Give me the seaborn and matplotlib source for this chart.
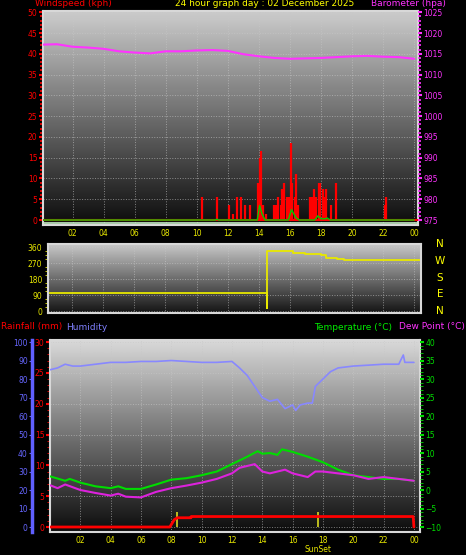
import numpy as np
import matplotlib
matplotlib.use("Agg")
import matplotlib.pyplot as plt
import seaborn as sns

sns.set_style("dark")
plt.rcParams['font.family'] = ['DejaVu Sans']

# %% Data
gust_hour = [10.35, 11.3, 12.1, 12.35, 12.6, 12.85, 13.1, 13.4, 13.95, 14.05, 14.15, 14.3, 14.45,
             14.95, 15.1, 15.25, 15.4, 15.5, 15.65, 15.8, 15.95, 16.05, 16.15, 16.3, 16.4, 16.5,
             17.3, 17.4, 17.55, 17.7, 17.85, 17.95, 18.1, 18.2, 18.35, 18.65, 18.95, 22.1, 22.2]
gust_kph = [5.5, 5.5, 3.5, 1.5, 5.5, 5.5, 3.5, 3.5, 9, 15, 16.5, 3.5, 1.5,
            3.5, 3.5, 5.5, 3.5, 7.5, 9, 5.5, 5.5, 18.5, 9, 5.5, 11, 3.5,
            5.5, 5.5, 7.5, 5.5, 9, 9, 7.5, 5.5, 7.5, 3.5, 9, 3.5, 5.5]
avg_hour = [0, 11.2, 11.3, 11.4, 13.9, 14.05, 14.2, 14.4, 15.9, 16.1, 16.4, 16.6,
            17.6, 17.8, 18.0, 18.3, 18.4, 18.6, 24]
avg_kph = [0, 0, 0.2, 0, 0, 3.5, 1.5, 0, 0, 2.5, 0.5, 0,
           0, 1.0, 0.3, 0.3, 0.5, 0, 0]

baro_hour = list(range(25))
baro_hpa = [1017.2, 1017.3, 1016.7, 1016.5, 1016.2, 1015.6, 1015.3, 1015.1, 1015.6, 1015.6,
            1015.8, 1015.9, 1015.7, 1014.9, 1014.4, 1014.0, 1013.8, 1013.9, 1014.0, 1014.2,
            1014.4, 1014.5, 1014.3, 1014.2, 1013.8]

dir_hour = [0, 14.45, 14.5, 14.55, 16.2, 17.0, 18.0, 18.3, 19.0, 19.5, 24.4]
dir_deg = [100, 100, 15, 340, 325, 320, 315, 300, 290, 285, 285]

hum_hour = [0, 0.5, 1, 1.5, 2, 3, 4, 5, 6, 7, 8, 9, 10, 11, 12, 12.5, 13, 13.5, 14, 14.5, 15,
            15.5, 16, 16.2, 16.5, 17, 17.3, 17.5, 18, 18.5, 19, 20, 21, 22, 23, 23.3, 23.4, 24]
hum_pct = [85, 86, 88, 87, 87, 88, 89, 89, 89.5, 89.5, 90, 89.5, 89, 89, 89.5, 86, 82, 76, 70,
           68, 69, 64, 66, 63, 66, 67, 67, 76, 80, 84, 86, 87, 87.5, 88, 88, 93, 89, 89]

temp_hour = [0, 1, 1.3, 2, 3, 4, 4.5, 5, 6, 7, 8, 9, 10, 11, 12, 13, 13.7, 14, 14.5, 15, 15.3,
             16, 17, 18, 19, 20, 21, 22, 23, 24]
temp_c = [3.7, 2.5, 3, 2, 1, 0.5, 1, 0.3, 0.3, 1.5, 2.8, 3.2, 4, 5, 7, 9, 10.5, 9.8, 10, 9.5, 11,
          10.3, 9, 7.5, 5.5, 4, 3.5, 3, 3, 2.5]
dew_hour = [0, 0.5, 1, 2, 3, 4, 4.5, 5, 6, 7, 8, 9, 10, 11, 12, 12.5, 13, 13.5, 14, 14.5, 15,
            15.5, 16, 17, 17.5, 18, 19, 20, 21, 22, 23, 24]
dew_c = [1.3, 0.5, 1.5, 0, -0.8, -1.5, -1, -1.8, -2, -0.5, 0.5, 1.2, 2, 3, 4.5, 6, 6.5, 7, 5,
         4.5, 5, 5.5, 4.5, 3.5, 5, 5, 4.5, 4, 3, 3.5, 3, 2.5]

rain_hour = [0, 7.9, 8.2, 8.4, 9.3, 9.31, 23.95, 24]
rain_mm = [0, 0, 1.2, 1.5, 1.5, 1.7, 1.7, 0]

sun_hours = [8.35, 17.65]
hour_ticks = list(range(2, 25, 2))
hour_labels = ["%02d" % (h % 24) for h in hour_ticks]

W, H = 466, 555
fig = plt.figure(figsize=(W / 100, H / 100), dpi=100, facecolor="black")


def px_axes(x0, y0, x1, y1):
    return fig.add_axes([x0 / W, 1 - y1 / H, (x1 - x0) / W, (y1 - y0) / H])


def style(ax, lo=0.05, hi=0.8):
    ax.set_facecolor("black")
    grad = np.linspace(hi, lo, 100)[:, None]
    ax.imshow(grad, extent=[0, 1, 0, 1], transform=ax.transAxes, aspect="auto",
              cmap="gray", vmin=0, vmax=1, zorder=0)
    for s in ax.spines.values():
        s.set_color("#d8d8d8")
        s.set_linewidth(1.5)
    ax.grid(True, color="#c8c8c8", linestyle=":", linewidth=0.7, alpha=0.6)
    ax.set_xlabel("")
    ax.set_ylabel("")


fs = 5.5
ts = 6.5

# %% Top panel: wind + barometer
ax1 = px_axes(43, 11, 418, 225)
style(ax1)
ax1.vlines(gust_hour, 0, gust_kph, color="#ff0000", linewidth=1.6, zorder=3)
ax1.axhline(0, color="#ff0000", linewidth=1.5, zorder=3)
ax1.axhline(-0.8, color="#c8f0c8", linewidth=1.2, zorder=3)
sns.lineplot(x=avg_hour, y=avg_kph, ax=ax1, color="#00cc00", linewidth=1, zorder=4)
ax1.set_xlim(0.1, 24.25)
ax1.set_ylim(-1.2, 50.3)
ax1.set_yticks(range(0, 51, 5))
ax1.set_yticks(np.arange(0, 51, 1), minor=True)
ax1.set_xticks(hour_ticks)
ax1.set_xticklabels(hour_labels)
ax1.tick_params(axis="y", colors="#ff0000", labelsize=fs, length=3, width=1.5, pad=1)
ax1.tick_params(axis="y", which="minor", colors="#ff0000", length=2, width=1.2, left=True)
ax1.tick_params(axis="x", colors="#e8e800", labelsize=fs, length=2, pad=1)
ax1b = ax1.twinx()
sns.lineplot(x=baro_hour, y=baro_hpa, ax=ax1b, color="#ff33ff", linewidth=1.5)
ax1b.set_ylim(975 - 1.2, 1025.3)
ax1b.set_yticks(range(975, 1026, 5))
ax1b.set_yticks(np.arange(975, 1026, 1), minor=True)
ax1b.tick_params(axis="y", colors="#ff33ff", labelsize=fs, length=3, width=1.5, pad=1)
ax1b.tick_params(axis="y", which="minor", colors="#ff33ff", length=2, width=1.2, right=True)
ax1b.set_ylabel("")
ax1b.grid(False)
for s in ax1b.spines.values():
    s.set_visible(False)

fig.text(35 / W, 1 - 4 / H, "Windspeed (kph)", color="#ff0000", fontsize=ts, va="center")
fig.text(265 / W, 1 - 4 / H, "24 hour graph day : 02 December 2025", color="#ffff00",
         fontsize=ts, va="center", ha="center")
fig.text(446 / W, 1 - 4 / H, "Barometer (hpa)", color="#ff33ff", fontsize=ts, va="center", ha="right")

# %% Middle panel: wind direction
ax2 = px_axes(48, 244, 421, 313)
style(ax2, 0.08, 0.78)
sns.lineplot(x=dir_hour, y=dir_deg, ax=ax2, color="#e8e800", linewidth=1.3, drawstyle="steps-post")
ax2.set_xlim(0.45, 24.43)
ax2.set_ylim(-11, 377)
ax2.set_yticks([0, 90, 180, 270, 360])
ax2.set_yticks(np.arange(0, 361, 22.5), minor=True)
ax2.set_xticks(hour_ticks)
ax2.set_xticklabels([])
ax2.tick_params(axis="x", length=0)
ax2.tick_params(axis="y", colors="#e8e800", labelsize=fs, length=3, width=1.5, pad=1)
ax2.tick_params(axis="y", which="minor", colors="#e8e800", length=2, left=True)
for i, c in enumerate(["N", "W", "S", "E", "N"]):
    fig.text(440 / W, 1 - (244 + i * 16.8) / H, c, color="#ffff00", fontsize=7.5, ha="center", va="center")

fig.text(1 / W, 1 - 327 / H, "Rainfall (mm)", color="#ff0000", fontsize=ts, va="center")
fig.text(66 / W, 1 - 327 / H, "Humidity", color="#8080ff", fontsize=ts, va="center")
fig.text(392 / W, 1 - 327 / H, "Temperature (°C)", color="#00ee00", fontsize=ts, va="center", ha="right")
fig.text(465 / W, 1 - 327 / H, "Dew Point (°C)", color="#ff33ff", fontsize=ts, va="center", ha="right")

# %% Bottom panel: rain, humidity, temperature, dew point
ax3 = px_axes(50, 340, 420, 532)
style(ax3, 0.05, 0.85)
ax3.set_xlim(0, 24.4)
ax3.set_ylim(-0.81, 30.33)
ax3.set_yticks(range(0, 31, 5))
ax3.set_yticks(np.arange(0, 31, 1), minor=True)
ax3.set_xticks(hour_ticks)
ax3.set_xticklabels(hour_labels)
ax3.tick_params(axis="y", colors="#ff0000", labelsize=fs, length=3, width=1.5, pad=1)
ax3.tick_params(axis="y", which="minor", colors="#ff0000", length=2, left=True)
ax3.tick_params(axis="x", colors="#e8e800", labelsize=fs, length=2, pad=1)
ax3.vlines(sun_hours, 0, 2.4, color="#d8d820", linewidth=1.2, zorder=3)
fig.text((50 + 17.65 * 15.17) / W, 1 - 549 / H, "SunSet", color="#e8e800", fontsize=fs,
         ha="center", va="center")
sns.lineplot(x=rain_hour, y=rain_mm, ax=ax3, color="#ff0000", linewidth=2, zorder=5)
ax3.set_xlabel("")
ax3.set_ylabel("")

ax3h = ax3.twinx()
sns.lineplot(x=hum_hour, y=hum_pct, ax=ax3h, color="#8888ff", linewidth=1.2)
ax3h.set_ylim(-2.7, 101.1)
ax3h.yaxis.set_ticks_position("left")
ax3h.spines["left"].set_position(("outward", 13))
ax3h.spines["left"].set_color("#6060ff")
ax3h.spines["left"].set_linewidth(2.5)
for k in ["right", "top", "bottom"]:
    ax3h.spines[k].set_visible(False)
ax3h.set_yticks(range(0, 101, 10))
ax3h.tick_params(axis="y", colors="#6666ff", labelsize=fs, length=2, pad=1)
ax3h.set_ylabel("")
ax3h.grid(False)

ax3t = ax3.twinx()
sns.lineplot(x=temp_hour, y=temp_c, ax=ax3t, color="#00dd00", linewidth=1.5)
sns.lineplot(x=dew_hour, y=dew_c, ax=ax3t, color="#dd22dd", linewidth=1.5)
ax3t.set_ylim(-11.35, 40.55)
ax3t.set_yticks(range(-10, 41, 5))
ax3t.set_yticks(np.arange(-10, 41, 1), minor=True)
ax3t.tick_params(axis="y", colors="#00dd00", labelsize=fs, length=3, width=1.5, pad=1)
ax3t.tick_params(axis="y", which="minor", colors="#00dd00", length=2, right=True)
ax3t.set_ylabel("")
ax3t.grid(False)
for s in ax3t.spines.values():
    s.set_visible(False)

fig.savefig("out.png", dpi=100, facecolor="black")
